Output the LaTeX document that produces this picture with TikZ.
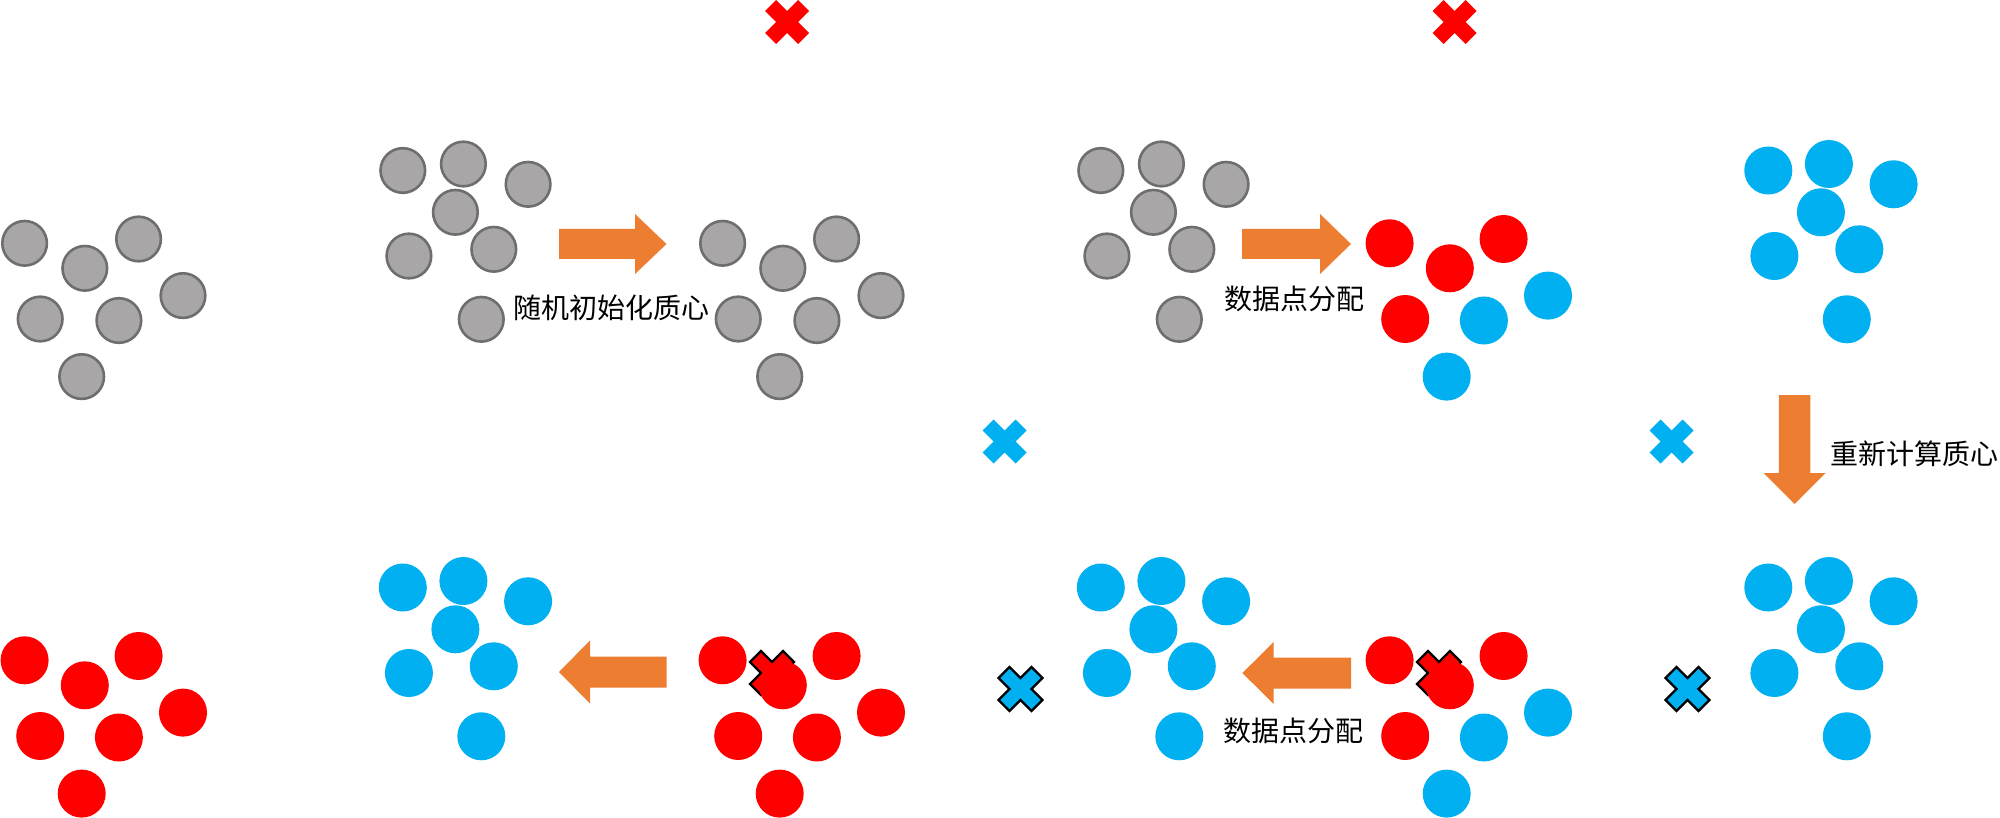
\documentclass[tikz,border=0pt]{standalone}
\usepackage{fontspec}
\newfontfamily\cjk{Noto Sans CJK SC}
\definecolor{dotgray}{HTML}{A9A6A7}
\definecolor{dotedge}{HTML}{6E6E6E}
\definecolor{ptred}{HTML}{FF0000}
\definecolor{ptblue}{HTML}{00B0F0}
\definecolor{arroworange}{HTML}{ED7D31}
\tikzset{
  gdot/.style={fill=dotgray, draw=dotedge, line width=2.6pt, radius=22.3pt},
  rdot/.style={fill=ptred, radius=24pt},
  bdot/.style={fill=ptblue, radius=24pt},
  rx/.style={fill=ptred},
  bx/.style={fill=ptblue},
  rxo/.style={fill=ptred, draw=black, line width=2.4pt, line join=miter},
  bxo/.style={fill=ptblue, draw=black, line width=2.4pt, line join=miter},
  blockarrow/.style={fill=arroworange},
  lbl/.style={font=\cjk\fontsize{28}{31}\selectfont, inner sep=0pt, anchor=west}
}
% pattern A: seven points, styles #3..#9
\newcommand\clusterA[9]{%
  \path[#3] (#1+24.6,#2+243.3) circle;
  \path[#4] (#1+84.8,#2+268.3) circle;
  \path[#5] (#1+138.6,#2+239.0) circle;
  \path[#6] (#1+183.0,#2+295.6) circle;
  \path[#7] (#1+40.2,#2+319.0) circle;
  \path[#8] (#1+118.9,#2+320.5) circle;
  \path[#9] (#1+81.7,#2+376.6) circle;
}
% pattern B: all one style
\newcommand\clusterB[3]{%
  \path[#3] (#1+402.8,#2+170.5) circle;
  \path[#3] (#1+463.4,#2+164.0) circle;
  \path[#3] (#1+528.1,#2+184.3) circle;
  \path[#3] (#1+455.4,#2+212.3) circle;
  \path[#3] (#1+408.9,#2+256.0) circle;
  \path[#3] (#1+493.8,#2+249.3) circle;
  \path[#3] (#1+481.3,#2+319.3) circle;
}
\newcommand\xmark[3]{%
  \path[#3, shift={(#1,#2)}] (11,22) -- (22,11) -- (11,0) -- (22,-11) -- (11,-22) -- (0,-11)
    -- (-11,-22) -- (-22,-11) -- (-11,0) -- (-22,11) -- (-11,22) -- (0,11) -- cycle;
}
\begin{document}
\begin{tikzpicture}[x=1pt,y=-1pt]
\useasboundingbox (0,0) rectangle (2000,818);
\fill[white] (0,0) rectangle (2000,818);

% ---------- top row ----------
\clusterA{0}{0}{gdot}{gdot}{gdot}{gdot}{gdot}{gdot}{gdot}
\clusterB{0}{0}{gdot}
\clusterA{698}{0}{gdot}{gdot}{gdot}{gdot}{gdot}{gdot}{gdot}
\clusterB{698}{0}{gdot}
\xmark{787}{22}{rx}
\xmark{1004.5}{441.5}{bx}
\clusterA{1365}{0}{rdot}{rdot}{rdot}{bdot}{rdot}{bdot}{bdot}
\clusterB{1365.5}{0}{bdot}
\xmark{1454.5}{22}{rx}
\xmark{1671.5}{441.5}{bx}

% ---------- bottom row ----------
\clusterA{0}{417}{rdot}{rdot}{rdot}{rdot}{rdot}{rdot}{rdot}
\clusterB{0}{417}{bdot}
\xmark{772}{673}{rxo}
\clusterA{698}{417}{rdot}{rdot}{rdot}{rdot}{rdot}{rdot}{rdot}
\xmark{1020.5}{689}{bxo}
\clusterB{698}{417}{bdot}
\xmark{1439}{673}{rxo}
\clusterA{1365}{417}{rdot}{rdot}{rdot}{bdot}{rdot}{bdot}{bdot}
\xmark{1687.5}{689}{bxo}
\clusterB{1365.5}{417}{bdot}

% ---------- block arrows ----------
\coordinate (a1s) at (559,244);   \coordinate (a1t) at (666.5,244);
\fill[blockarrow] (a1s) ++(0,-15) -- ++(76,0) -- ++(0,-15) -- (a1t) -- ++(-31.5,30) -- ++(0,-15) -- ++(-76,0) -- cycle;
\coordinate (a2s) at (1242,244);  \coordinate (a2t) at (1351,244);
\fill[blockarrow] (a2s) ++(0,-15) -- ++(78,0) -- ++(0,-15) -- (a2t) -- ++(-31,30) -- ++(0,-15) -- ++(-78,0) -- cycle;
\coordinate (a3s) at (1794.6,395); \coordinate (a3t) at (1794.6,504);
\fill[blockarrow] (a3s) ++(-15.7,0) -- ++(0,78) -- ++(-15.3,0) -- (a3t) -- ++(31,-31) -- ++(-15.3,0) -- ++(0,-78) -- cycle;
\coordinate (a4s) at (666.5,672); \coordinate (a4t) at (559,672);
\fill[blockarrow] (a4s) ++(0,-15.5) -- ++(-76.5,0) -- ++(0,-16) -- (a4t) -- ++(31,31.5) -- ++(0,-16) -- ++(76.5,0) -- cycle;
\coordinate (a5s) at (1351,673); \coordinate (a5t) at (1242.4,673);
\fill[blockarrow] (a5s) ++(0,-15.5) -- ++(-77.3,0) -- ++(0,-15.5) -- (a5t) -- ++(31.3,31) -- ++(0,-15.5) -- ++(77.3,0) -- cycle;

% ---------- labels ----------
\node[lbl] (l1) at (513,308) {随机初始化质心};
\node[lbl] (l2) at (1224,299) {数据点分配};
\node[lbl] (l3) at (1830,454) {重新计算质心};
\node[lbl] (l4) at (1223,731) {数据点分配};
\end{tikzpicture}
\end{document}
